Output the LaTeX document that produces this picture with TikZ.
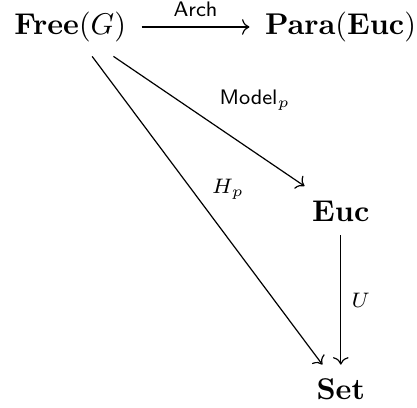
\documentclass[tikz,border=0pt]{standalone}
\usepackage{amsmath}
\usetikzlibrary{cd}
\begin{document}
\begin{tikzpicture}[x=1pt,y=1pt,
  obj/.style={inner xsep=5pt, inner ysep=4.6pt},
  arr/.style={->, >={cm to}, line width=0.4pt},
  lbl/.style={inner sep=3.33pt}]
\useasboundingbox (0,0) rectangle (139,-135.67);
\node[obj, anchor=base] (free) at (23.4,-11.5) {$\mathbf{Free}(G)$};
\node[obj, anchor=base] (para) at (113.5,-11.5) {$\mathbf{Para}(\mathbf{Euc})$};
\node[obj, anchor=base] (euc) at (113.6,-73.7) {$\mathbf{Euc}$};
\node[obj, anchor=base] (set) at (113.6,-133.2) {$\mathbf{Set}$};
\draw[arr] (free) -- node[lbl, anchor=south] (arch) {$\scriptstyle\mathsf{Arch}$} (para);
\draw[arr] (free) -- node[lbl, anchor=south west] (model) {$\scriptstyle\mathsf{Model}_p$} (euc);
\draw[arr] (free) -- node[lbl, anchor=south west, xshift=-2pt] (hp) {$\scriptstyle H_p$} (set);
\draw[arr] (euc) -- node[lbl, anchor=west] (u) {$\scriptstyle U$} (set);
\end{tikzpicture}
\end{document}
